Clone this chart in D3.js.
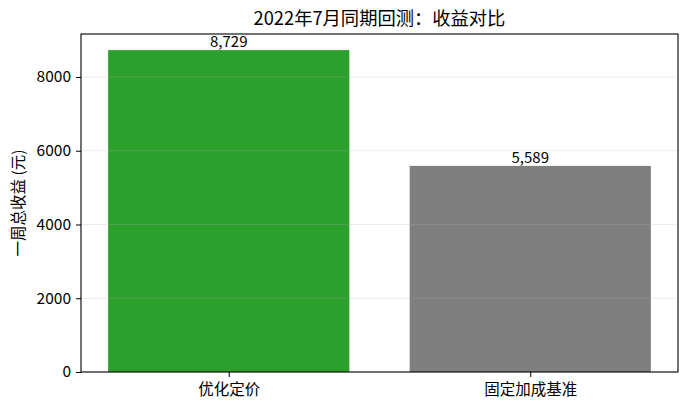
<!DOCTYPE html>
<html>
<head>
<meta charset="utf-8">
<script src="https://cdn.jsdelivr.net/npm/d3@7"></script>
<style>
  body { margin: 0; background: #fff; }
  text { font-family: "Noto Sans CJK SC", "Noto Sans", sans-serif; fill: #000; }
</style>
</head>
<body>
<svg id="chart" width="688" height="411"></svg>
<script>
var categories = ["优化定价", "固定加成基准"];
var revenue = [8729, 5589];
var barColors = ["#2ca02c", "#7f7f7f"];
var yTicks = [0, 2000, 4000, 6000, 8000];

var svg = d3.select("#chart");
var margin = {left: 81, top: 34, right: 10, bottom: 39};
var width = 688, height = 411;

// x as category index, matplotlib-like margins
var x = d3.scaleLinear()
  .domain([-0.49, categories.length - 1 + 0.49])
  .range([margin.left, width - margin.right]);

var y = d3.scaleLinear()
  .domain([0, d3.max(revenue) * 1.05])
  .range([height - margin.bottom, margin.top]);

var barW = x(0.8) - x(0);

svg.append("g").selectAll("rect")
  .data(revenue)
  .enter()
  .append("rect")
  .attr("x", (d, i) => x(i) - barW / 2)
  .attr("y", d => y(d))
  .attr("width", barW)
  .attr("height", d => y(0) - y(d))
  .attr("fill", (d, i) => barColors[i]);

// grid on top of bars, like the reference
svg.append("g").selectAll("line")
  .data(yTicks)
  .enter()
  .append("line")
  .attr("x1", margin.left)
  .attr("x2", width - margin.right)
  .attr("y1", d => y(d))
  .attr("y2", d => y(d))
  .attr("stroke", "#b0b0b0")
  .attr("stroke-opacity", 0.3)
  .attr("stroke-width", 0.8);

// value labels
svg.append("g").selectAll("text")
  .data(revenue)
  .enter()
  .append("text")
  .attr("x", (d, i) => x(i))
  .attr("y", d => y(d) - 3)
  .attr("text-anchor", "middle")
  .attr("font-size", 15)
  .text(d => d3.format(",")(d));

// frame
svg.append("rect")
  .attr("x", margin.left)
  .attr("y", margin.top)
  .attr("width", width - margin.right - margin.left)
  .attr("height", height - margin.bottom - margin.top)
  .attr("fill", "none")
  .attr("stroke", "#000")
  .attr("stroke-width", 1.1);

var yAxis = svg.append("g")
  .attr("transform", "translate(" + margin.left + ",0)")
  .call(d3.axisLeft(y).tickValues(yTicks).tickSize(5).tickPadding(5).tickFormat(d3.format("d")));
yAxis.select(".domain").remove();
yAxis.selectAll("text").attr("font-size", 15.5).style("font-family", "'Noto Sans CJK SC'");

var xAxis = svg.append("g")
  .attr("transform", "translate(0," + (height - margin.bottom) + ")")
  .call(d3.axisBottom(x).tickValues(d3.range(categories.length)).tickSize(5).tickPadding(7).tickFormat(i => categories[i]));
xAxis.select(".domain").remove();
xAxis.selectAll("text").attr("font-size", 15.5).style("font-family", "'Noto Sans CJK SC'");

svg.append("text")
  .attr("x", (margin.left + width - margin.right) / 2)
  .attr("y", 25)
  .attr("text-anchor", "middle")
  .attr("font-size", 18.3)
  .text("2022年7月同期回测：收益对比");

svg.append("text")
  .attr("transform", "translate(24," + ((margin.top + height - margin.bottom) / 2) + ") rotate(-90)")
  .attr("text-anchor", "middle")
  .attr("font-size", 15.5)
  .text("一周总收益 (元)");
</script>
</body>
</html>
